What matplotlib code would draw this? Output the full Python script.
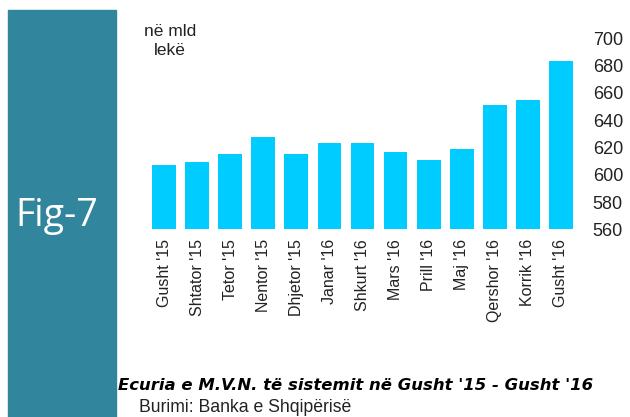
import numpy as np
import matplotlib.pyplot as plt
from matplotlib.patches import Rectangle

muajt = ["Gusht '15", "Shtator '15", "Tetor '15", "Nentor '15", "Dhjetor '15",
         "Janar '16", "Shkurt '16", "Mars '16", "Prill '16", "Maj '16",
         "Qershor '16", "Korrik '16", "Gusht '16"]
vlerat = [607, 609, 615.5, 628, 615, 623.5, 623.5, 617, 611, 619, 651, 655, 683.5]

plt.rcParams['font.family'] = ['Liberation Sans', 'DejaVu Sans']

W, H = 630, 417
fig = plt.figure(figsize=(W / 100, H / 100), dpi=100)

# sidebar
fig.patches.append(Rectangle((8 / W, 0), 108 / W, (H - 10) / H,
                             transform=fig.transFigure, color="#31859c", zorder=0))
fig.text(57 / W, 1 - 216 / H, "Fig-7", color="white", fontsize=27,
         ha="center", va="center", family=["Open Sans", "DejaVu Sans"])

ax = fig.add_axes([147.5 / W, (H - 229.3) / H, 430 / W, (229.3 - 38.3) / H])
x = np.arange(len(muajt))
ax.bar(x, vlerat, width=0.72, color="#00ccff", bottom=0)
ax.set_xlim(-0.5, len(muajt) - 0.5)
ax.set_ylim(560, 700)
ax.set_yticks(np.arange(560, 701, 20))
ax.yaxis.tick_right()
ax.tick_params(axis="y", length=0, pad=11, labelsize=13, colors="#222222")
ax.tick_params(axis="x", length=0, pad=7, labelsize=11.5, colors="#222222")
ax.set_xticks(x)
ax.set_xticklabels(muajt, rotation=90)
for s in ax.spines.values():
    s.set_visible(False)

fig.text(170 / W, 1 - 41 / H, "në mld\nlekë", ha="center", va="center",
         fontsize=12.5, color="#222222", linespacing=1.3)

fig.text(118 / W, 1 - 385 / H, "Ecuria e M.V.N. të sistemit në Gusht '15 - Gusht '16",
         fontsize=11.85, fontweight="bold", fontstyle="italic", ha="left", va="center",
         family=["DejaVu Sans"])
fig.text(139 / W, 1 - 412 / H, "Burimi: Banka e Shqipërisë",
         fontsize=12.7, ha="left", va="baseline", color="#222222")

fig.savefig("out.png", dpi=100)
